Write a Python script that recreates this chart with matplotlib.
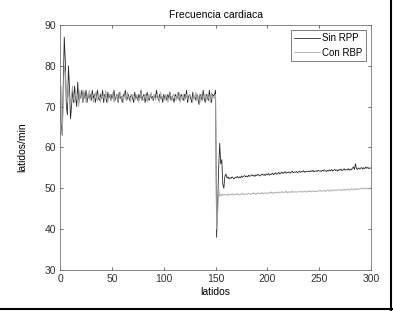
import numpy as np
import matplotlib
matplotlib.use("Agg")
import matplotlib.pyplot as plt
from matplotlib.lines import Line2D

# beats 0..300
sin_rpp = [
    72, 66, 63, 75, 87, 81, 70, 68, 80, 75,
    67, 70, 74, 71, 75, 72, 70, 76, 71, 73,
    72, 74, 71, 73.5, 72, 74, 71, 73, 72, 73,
    71.5, 74, 72, 73, 71, 72.5, 74, 72, 71.5, 73,
    72, 74, 71, 73, 72.5, 71, 73.5, 72, 73, 71.5,
    73, 72, 74, 71.5, 72.5, 73, 71, 73.5, 72, 72.5,
    71, 73, 72.5, 74, 71.5, 72, 73, 71.5, 72.5, 73,
    72, 71, 73.5, 72, 72.5, 71.5, 73, 72, 74, 71.5,
    72.5, 73, 71, 72.5, 73.5, 72, 71.5, 73, 72, 72.5,
    71.5, 73, 72, 74, 72.5, 71.5, 73, 72, 72.5, 71,
    73, 72, 72.5, 71.5, 73, 72, 73.5, 71.5, 72.5, 72,
    71, 73, 72.5, 72, 73.5, 71.5, 72.5, 73, 72, 71.5,
    73, 72, 74, 71, 72.5, 73, 72, 71, 73.5, 72,
    72.5, 71.5, 73, 72, 70.5, 73, 72.5, 71.5, 74, 72,
    71, 73, 72.5, 71.5, 74, 72, 71, 73, 72.5, 73,
    74, 38, 46, 55, 61, 56, 57, 51, 50, 53,
    53.5, 52.5, 52.8, 52.3, 52.6, 52.4, 52.8, 52.5, 52.3, 52.7,
    52.6, 52.9, 52.5, 52.8, 52.6, 53.0, 52.7, 52.9, 53.1, 52.8,
    53.0, 52.8, 53.2, 52.9, 53.1, 53.3, 53.0, 53.2, 52.9, 53.3,
    53.1, 53.4, 53.2, 53.0, 53.3, 53.5, 53.2, 53.4, 53.1, 53.5,
    53.3, 53.6, 53.2, 53.5, 53.4, 53.7, 53.3, 53.6, 53.8, 53.4,
    53.6, 53.9, 53.5, 53.7, 54.0, 53.6, 53.8, 54.1, 53.7, 53.9,
    53.8, 54.0, 53.7, 53.9, 54.2, 53.8, 54.0, 53.9, 54.1, 53.8,
    54.0, 54.2, 53.9, 54.1, 54.0, 54.3, 53.9, 54.1, 54.2, 54.0,
    54.2, 54.0, 54.3, 54.1, 54.4, 54.0, 54.2, 54.3, 54.1, 54.4,
    54.2, 54.3, 54.1, 54.4, 54.2, 54.5, 54.3, 54.1, 54.4, 54.2,
    54.5, 54.3, 54.6, 54.2, 54.4, 54.6, 54.3, 54.5, 54.2, 54.6,
    54.4, 54.7, 54.3, 54.5, 54.8, 54.4, 54.6, 54.5, 54.8, 54.4,
    54.7, 54.5, 54.9, 55.2, 54.6, 56.0, 54.8, 54.6, 55.0, 54.7,
    54.9, 55.1, 54.7, 55.0, 54.8, 55.2, 54.9, 55.1, 54.8, 55.0,
    54.9,
]

con_rbp = [
    72, 75, 63, 70, 80, 78, 73, 71, 74, 72,
    71, 73, 75, 72, 71, 74, 72, 73, 70, 74,
    72, 73, 71.5, 74, 72.5, 71, 73, 72, 74, 71.5,
    72.5, 73, 71, 72, 73.5, 72, 71.5, 73, 72.5, 71,
    73, 72, 72.5, 71.5, 74, 72, 71, 72.5, 73, 71.5,
    72, 73.5, 71, 72.5, 72, 73, 71.5, 72, 73.5, 72,
    72.5, 71, 73, 72, 71.5, 73.5, 72, 72.5, 71, 73,
    72.5, 73, 71.5, 72, 73, 72, 71, 72.5, 73.5, 72,
    71.5, 72, 73, 72.5, 71, 73, 72, 72.5, 73.5, 71.5,
    72, 73, 71.5, 72.5, 73, 72, 71, 73.5, 72, 72.5,
    72, 71.5, 73, 72.5, 71, 72, 73, 72.5, 71.5, 73,
    72.5, 72, 71.5, 73, 72, 73.5, 71, 72.5, 72, 73,
    71.5, 72.5, 73, 72, 71.5, 73, 72.5, 72, 71, 73,
    72, 73.5, 71.5, 72.5, 72, 71, 73, 72.5, 72, 73,
    72.5, 71.5, 73, 72, 72.5, 71, 73.5, 72, 72.5, 72,
    73, 40, 44, 50, 48, 48.5, 48.2, 48.6, 48.3, 48.5,
    48.4, 48.2, 48.6, 48.3, 48.5, 48.4, 48.7, 48.3, 48.5, 48.6,
    48.4, 48.7, 48.5, 48.3, 48.6, 48.5, 48.8, 48.4, 48.6, 48.5,
    48.7, 48.5, 48.8, 48.6, 48.4, 48.7, 48.9, 48.6, 48.8, 48.5,
    48.7, 48.9, 48.6, 48.8, 48.7, 49.0, 48.6, 48.8, 48.9, 48.7,
    48.9, 48.7, 49.0, 48.8, 49.1, 48.7, 48.9, 49.0, 48.8, 49.1,
    48.9, 49.1, 48.8, 49.0, 49.2, 48.9, 49.1, 49.0, 49.3, 48.9,
    49.1, 49.0, 49.2, 48.9, 49.3, 49.1, 49.0, 49.2, 49.1, 49.0,
    49.2, 49.1, 49.3, 49.0, 49.2, 49.1, 49.3, 49.2, 49.0, 49.3,
    49.2, 49.4, 49.1, 49.3, 49.2, 49.4, 49.1, 49.3, 49.2, 49.4,
    49.3, 49.5, 49.2, 49.4, 49.3, 49.5, 49.2, 49.4, 49.6, 49.3,
    49.5, 49.3, 49.6, 49.4, 49.5, 49.7, 49.4, 49.6, 49.5, 49.7,
    49.5, 49.7, 49.4, 49.6, 49.8, 49.5, 49.7, 49.6, 49.8, 49.5,
    49.7, 49.9, 49.6, 49.8, 49.7, 50.0, 49.6, 49.8, 49.9, 49.7,
    49.9, 50.1, 49.8, 50.0, 49.8, 50.1, 49.9, 50.0, 49.8, 50.1,
    50.0,
]

beats = np.arange(len(sin_rpp))
x_ticks = [0, 50, 100, 150, 200, 250, 300]
y_ticks = [30, 40, 50, 60, 70, 80, 90]

plt.rcParams['font.family'] = ['Liberation Sans', 'DejaVu Sans']
plt.rcParams['font.size'] = 7.5

fig = plt.figure(figsize=(3.93, 3.11), dpi=100)
ax = fig.add_axes([0.153, 0.132, 0.791, 0.788])

ax.plot(beats, sin_rpp, color='#2a2a2a', linewidth=0.6, label='Sin RPP')
ax.plot(beats, con_rbp, color='#a8a8a8', linewidth=0.6, label='Con RBP')

ax.set_xlim(0, 300)
ax.set_ylim(30, 90)
ax.set_xticks(x_ticks)
ax.set_yticks(y_ticks)
ax.tick_params(direction='in', top=True, right=True, length=2.5, width=0.5,
               colors='#333333', labelsize=7.5, pad=3)
for s in ax.spines.values():
    s.set_linewidth(0.6)
    s.set_color('#777777')

ax.set_title('Frecuencia cardiaca', fontsize=7.5, pad=5)
ax.set_xlabel('latidos', fontsize=7.5, labelpad=2)
ax.set_ylabel('latidos/min', fontsize=7.5, labelpad=12)

leg = ax.legend(loc='upper right', fontsize=7, frameon=True, fancybox=False,
                handlelength=2.6, borderaxespad=0.5, borderpad=0.35,
                labelspacing=0.45, handletextpad=0.3)
leg.get_frame().set_edgecolor('#444444')
leg.get_frame().set_linewidth(0.6)

# frame lines along right and bottom edge of the image
fig.add_artist(Line2D([0.995, 0.995], [0.0, 1.0], color='black', linewidth=1.5))
fig.add_artist(Line2D([0.0, 1.0], [0.005, 0.005], color='black', linewidth=1.5))

fig.savefig('out.png', dpi=100)
